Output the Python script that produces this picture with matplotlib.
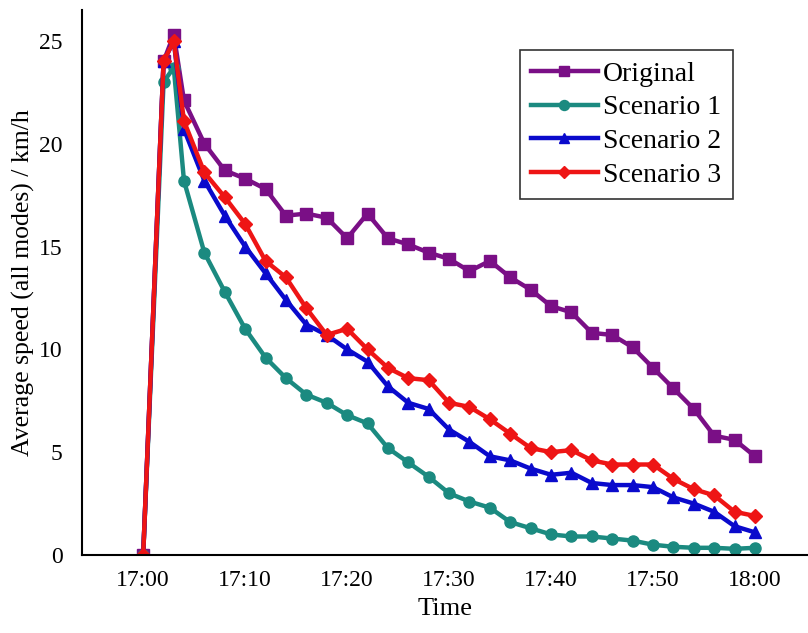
import numpy as np
import matplotlib
matplotlib.use('Agg')
import matplotlib.pyplot as plt
import matplotlib as mpl

# plot configuration
mpl.rcParams['font.family'] = 'serif'
mpl.rcParams['font.serif'] = ['Liberation Serif', 'DejaVu Serif']
mpl.rcParams['mathtext.fontset'] = 'stix'

# minutes after 17:00
minutes = [0, 2, 3, 4, 6, 8, 10, 12, 14, 16, 18, 20, 22, 24, 26, 28, 30,
           32, 34, 36, 38, 40, 42, 44, 46, 48, 50, 52, 54, 56, 58, 60]

original = [0, 24.0, 25.3, 22.1, 20.0, 18.7, 18.3, 17.8, 16.5, 16.6, 16.4, 15.4,
            16.6, 15.4, 15.1, 14.7, 14.4, 13.8, 14.3, 13.5, 12.9, 12.1, 11.8,
            10.8, 10.7, 10.1, 9.1, 8.1, 7.1, 5.8, 5.6, 4.8]
scenario1 = [0, 23.0, 23.7, 18.2, 14.7, 12.8, 11.0, 9.6, 8.6, 7.8, 7.4, 6.8,
             6.4, 5.2, 4.5, 3.8, 3.0, 2.6, 2.3, 1.6, 1.3, 1.0, 0.9, 0.9, 0.8,
             0.7, 0.5, 0.4, 0.35, 0.35, 0.3, 0.35]
scenario2 = [0, 24.0, 25.0, 20.7, 18.2, 16.5, 15.0, 13.7, 12.4, 11.2, 10.7, 10.0,
             9.4, 8.2, 7.4, 7.1, 6.1, 5.5, 4.8, 4.6, 4.2, 3.9, 4.0, 3.5, 3.4,
             3.4, 3.3, 2.8, 2.5, 2.1, 1.4, 1.1]
scenario3 = [0, 24.0, 25.0, 21.1, 18.6, 17.4, 16.1, 14.3, 13.5, 12.0, 10.7, 11.0,
             10.0, 9.1, 8.6, 8.5, 7.4, 7.2, 6.6, 5.9, 5.2, 5.0, 5.1, 4.6, 4.4,
             4.4, 4.4, 3.7, 3.2, 2.9, 2.1, 1.9]

tick_minutes = [0, 10, 20, 30, 40, 50, 60]
tick_labels = ['17:00', '17:10', '17:20', '17:30', '17:40', '17:50', '18:00']

series = [('Original', original, '#7a0f86', 's'),
          ('Scenario 1', scenario1, '#1b8a80', 'o'),
          ('Scenario 2', scenario2, '#0a0acc', '^'),
          ('Scenario 3', scenario3, '#ee1515', 'D')]

fig = plt.figure(figsize=(8.08, 6.33), dpi=100)
ax = fig.add_axes([82 / 808, 78 / 633, 726 / 808, 545 / 633])

for name, vals, col, mk in series:
    ms = 7 if mk == 'D' else 8
    ax.plot(minutes, vals, color=col, linewidth=3.2, marker=mk, markersize=ms,
            markeredgecolor=col, label=name)

ax.set_xlim(-6, 65.2)
ax.set_ylim(0, 26.5)
ax.set_xticks(tick_minutes)
ax.set_xticklabels(tick_labels)
ax.set_yticks([0, 5, 10, 15, 20, 25])
ax.tick_params(axis='both', length=0, labelsize=17)
ax.tick_params(axis='x', pad=11)
ax.tick_params(axis='y', pad=14)

for s in ['top', 'right']:
    ax.spines[s].set_visible(False)
ax.spines['left'].set_linewidth(1.5)
ax.spines['bottom'].set_linewidth(1.5)

ax.set_xlabel('Time', fontsize=19, labelpad=5)
ax.set_ylabel('Average speed (all modes) / km/h', fontsize=18.5, labelpad=3)

leg = ax.legend(loc='upper left', bbox_to_anchor=(520 / 808, 1 - 50 / 633),
                bbox_transform=fig.transFigure, borderaxespad=0, fontsize=20,
                frameon=True, fancybox=False, handlelength=2.4,
                handletextpad=0.2, labelspacing=0.3, borderpad=0.4,
                markerscale=0.9)
leg.get_frame().set_edgecolor('black')
leg.get_frame().set_linewidth(1.2)

fig.savefig('out.png', dpi=100)
